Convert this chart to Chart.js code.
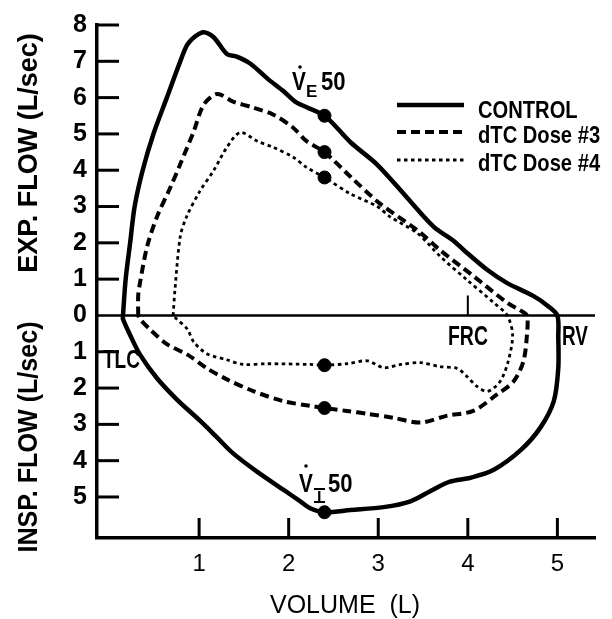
<!DOCTYPE html>
<html>
<head>
<meta charset="utf-8">
<script src="https://cdn.jsdelivr.net/npm/chart.js@4.4.1/dist/chart.umd.min.js"></script>
<style>
  html, body { margin: 0; padding: 0; background: #fff; }
  #wrap { width: 612px; height: 619px; }
</style>
</head>
<body>
<div id="wrap"><canvas id="loop" width="612" height="619"></canvas></div>
<script>
// Flow-volume loops: volume (L), flow (L/sec), inspiration negative
const controlVol  = [0.15, 0.18, 0.23, 0.28, 0.37, 0.49, 0.64, 0.79, 0.88, 1.04, 1.16, 1.31, 1.42, 1.57, 1.76, 1.94, 2.09, 2.4, 2.69, 2.99, 3.32, 3.62, 3.84, 3.96, 4.22, 4.44, 4.73, 4.89, 5.0,
                     5.01, 5.01, 4.96, 4.81, 4.59, 4.29, 4.03, 3.8, 3.61, 3.36, 3.06, 2.69, 2.4, 2.24, 2.13, 1.94, 1.65, 1.38, 1.2, 1.01, 0.75, 0.53, 0.34, 0.23, 0.15, 0.15];
const controlFlow = [0, 1.0, 2.0, 3.0, 4.0, 5.0, 6.0, 7.0, 7.5, 7.8, 7.67, 7.2, 7.13, 6.94, 6.53, 6.18, 5.86, 5.5, 4.77, 4.15, 3.25, 2.44, 2.06, 1.79, 1.25, 0.89, 0.54, 0.27, 0,
                     -0.6, -1.46, -2.36, -3.09, -3.71, -4.25, -4.47, -4.58, -4.8, -5.12, -5.28, -5.36, -5.42, -5.31, -5.12, -4.8, -4.31, -3.8, -3.36, -2.9, -2.31, -1.73, -1.08, -0.54, -0.1, 0];

const dose3Vol  = [0.32, 0.32, 0.34, 0.42, 0.53, 0.68, 0.79, 0.94, 1.05, 1.2, 1.38, 1.61, 1.83, 2.05, 2.2, 2.4, 2.69, 3.02, 3.44, 3.69, 4.06, 4.44, 4.58, 4.66,
                   4.66, 4.62, 4.51, 4.33, 4.06, 3.77, 3.47, 3.17, 2.88, 2.65, 2.4, 2.24, 1.94, 1.61, 1.31, 1.09, 0.87, 0.64, 0.45, 0.34, 0.32];
const dose3Flow = [0, 0.54, 0.9, 1.9, 2.72, 3.53, 4.17, 5.07, 5.8, 6.1, 5.89, 5.72, 5.53, 5.17, 4.8, 4.5, 3.82, 3.08, 2.34, 1.8, 1.09, 0.35, 0.15, 0,
                   -0.54, -1.27, -1.82, -2.17, -2.63, -2.76, -2.95, -2.82, -2.71, -2.63, -2.55, -2.49, -2.36, -2.09, -1.76, -1.46, -1.08, -0.79, -0.38, -0.1, 0];

const dose4Vol  = [0.71, 0.73, 0.79, 0.86, 1.01, 1.16, 1.31, 1.46, 1.65, 1.83, 2.05, 2.2, 2.4, 2.69, 2.99, 3.13, 3.44, 3.69, 3.99, 4.29, 4.44,
                   4.5, 4.45, 4.36, 4.22, 4.1, 3.99, 3.88, 3.69, 3.47, 3.25, 3.06, 2.88, 2.65, 2.4, 2.24, 1.76, 1.49, 1.31, 1.09, 0.94, 0.87, 0.75, 0.71];
const dose4Flow = [0, 0.7, 2.18, 2.72, 3.43, 3.98, 4.63, 5.04, 4.8, 4.63, 4.36, 4.08, 3.8, 3.35, 3.0, 2.72, 2.26, 1.63, 0.98, 0.35, 0,
                   -0.54, -1.27, -1.82, -2.09, -1.95, -1.68, -1.46, -1.41, -1.3, -1.35, -1.44, -1.25, -1.33, -1.37, -1.35, -1.33, -1.35, -1.22, -1.06, -0.73, -0.38, -0.1, 0];

// V̇E50 / V̇I50 markers
const midVol  = [2.4, 2.4, 2.4, 2.4, 2.4, 2.4];
const midFlow = [5.5, 4.5, 3.8, -1.37, -2.55, -5.42];

const xTicks = [1, 2, 3, 4, 5];
const yTicks = [-5, -4, -3, -2, -1, 0, 1, 2, 3, 4, 5, 6, 7, 8];
const seriesNames = ['CONTROL', 'dTC Dose #3', 'dTC Dose #4'];

const pts = (xs, ys) => xs.map((v, i) => ({ x: v, y: ys[i] }));

const txt = (ctx, s, x, y, size, opts = {}) => {
  ctx.save();
  ctx.font = `${opts.weight || 'bold'} ${size}px "Liberation Sans", Arial, sans-serif`;
  ctx.textAlign = opts.align || 'left';
  ctx.textBaseline = 'alphabetic';
  ctx.fillStyle = '#000';
  ctx.translate(x, y);
  if (opts.rot) ctx.rotate(opts.rot);
  ctx.scale(opts.sx || 1, 1);
  ctx.fillText(s, 0, 0);
  ctx.restore();
};

const extras = {
  id: 'extras',
  beforeDatasetsDraw(chart) {
    const { ctx, chartArea: a, scales: { x, y } } = chart;
    ctx.save();
    ctx.strokeStyle = '#000';
    // zero flow line
    ctx.lineWidth = 2.5;
    ctx.beginPath();
    ctx.moveTo(a.left, y.getPixelForValue(0));
    ctx.lineTo(a.right, y.getPixelForValue(0));
    ctx.stroke();
    // inward tick marks
    ctx.lineWidth = 3;
    yTicks.filter(v => v !== 0).forEach(v => {
      const py = y.getPixelForValue(v);
      ctx.beginPath(); ctx.moveTo(a.left, py); ctx.lineTo(a.left + 22, py); ctx.stroke();
    });
    xTicks.forEach(v => {
      const px = x.getPixelForValue(v);
      ctx.beginPath(); ctx.moveTo(px, a.bottom); ctx.lineTo(px, a.bottom - 20); ctx.stroke();
    });
    // FRC marker
    ctx.lineWidth = 2;
    const fx = x.getPixelForValue(4), zy = y.getPixelForValue(0);
    ctx.beginPath(); ctx.moveTo(fx, zy); ctx.lineTo(fx, zy - 20); ctx.stroke();
    ctx.restore();
  },
  afterDraw(chart) {
    const { ctx } = chart;
    // axis titles
    txt(ctx, 'EXP. FLOW (L/sec)', 37, 153, 27, { align: 'center', rot: -Math.PI / 2 });
    txt(ctx, 'INSP. FLOW (L/sec)', 37, 437, 27, { align: 'center', rot: -Math.PI / 2, sx: 0.93 });
    txt(ctx, 'VOLUME  (L)', 345, 613, 25, { align: 'center', weight: 'normal' });

    // lung volume labels
    txt(ctx, 'FRC', 448, 345, 27, { sx: 0.72 });
    txt(ctx, 'RV', 562, 345, 27, { sx: 0.7 });
    txt(ctx, 'TLC', 103, 368, 25, { sx: 0.76 });

    // V̇E50 and V̇I50
    const dot = (cx, cy) => { ctx.beginPath(); ctx.arc(cx, cy, 1.8, 0, Math.PI * 2); ctx.fill(); };
    ctx.fillStyle = '#000';
    txt(ctx, 'V', 292, 90, 26, { sx: 0.8 });
    dot(300, 67);
    txt(ctx, 'E', 306, 97, 17);
    txt(ctx, '50', 321, 90, 26, { sx: 0.85 });
    txt(ctx, 'V', 299, 492, 26, { sx: 0.8 });
    ctx.fillStyle = '#000';
    dot(306, 466);
    txt(ctx, 'I', 317, 503, 16);
    ctx.fillRect(314, 501, 11, 2);
    ctx.fillRect(314, 488, 11, 2);
    txt(ctx, '50', 328, 492, 26, { sx: 0.85 });

    // legend
    const rows = [105, 132, 160];
    chart.data.datasets.slice(0, 3).forEach((ds, i) => {
      ctx.save();
      ctx.strokeStyle = '#000';
      ctx.lineWidth = ds.borderWidth;
      ctx.setLineDash(ds.borderDash || []);
      ctx.beginPath();
      ctx.moveTo(397, rows[i]);
      ctx.lineTo(464, rows[i]);
      ctx.stroke();
      ctx.restore();
      txt(ctx, seriesNames[i], 478, rows[i] + (i === 0 ? 13 : 11), 24, { sx: 0.84 });
    });
  }
};

const lineSet = (label, data, width, dash) => ({
  label, data, showLine: true, borderColor: '#000', borderWidth: width, borderDash: dash,
  pointRadius: 0, tension: 0.3, fill: false
});

new Chart(document.getElementById('loop'), {
  type: 'scatter',
  data: {
    datasets: [
      lineSet(seriesNames[0], pts(controlVol, controlFlow), 4.5, []),
      lineSet(seriesNames[1], pts(dose3Vol, dose3Flow), 4, [9, 5]),
      lineSet(seriesNames[2], pts(dose4Vol, dose4Flow), 2.8, [3.5, 3.5]),
      { label: '50%', data: pts(midVol, midFlow), showLine: false, pointRadius: 6.5,
        pointBackgroundColor: '#000', pointBorderColor: '#000' }
    ]
  },
  options: {
    responsive: false,
    animation: false,
    layout: { padding: { top: 19, right: 17, left: 0, bottom: 0 } },
    plugins: { legend: { display: false }, tooltip: { enabled: false } },
    scales: {
      x: {
        min: -0.14, max: 5.42,
        afterFit: s => { s.height = 81; },
        afterBuildTicks: s => { s.ticks = xTicks.map(v => ({ value: v })); },
        grid: { display: false, drawTicks: false },
        border: { color: '#000', width: 3.5 },
        ticks: { color: '#000', padding: 12, font: { family: '"Liberation Sans", Arial, sans-serif', size: 24 } }
      },
      y: {
        min: -6.13, max: 8,
        afterFit: s => { s.width = 97; },
        afterBuildTicks: s => { s.ticks = yTicks.map(v => ({ value: v })); },
        grid: { display: false, drawTicks: false },
        border: { color: '#000', width: 3.5 },
        ticks: {
          color: '#000', padding: 10,
          font: { family: '"Liberation Sans", Arial, sans-serif', size: 25, weight: 'bold' },
          callback: v => String(Math.abs(v))
        }
      }
    }
  },
  plugins: [extras]
});
</script>
</body>
</html>
